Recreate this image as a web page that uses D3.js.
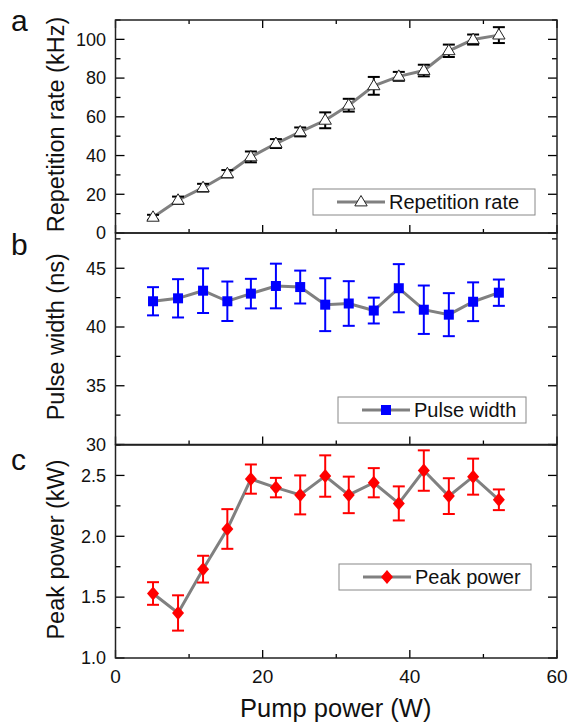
<!DOCTYPE html>
<html><head><meta charset="utf-8">
<script src="https://cdn.jsdelivr.net/npm/d3@7"></script>
<style>body{margin:0;background:#fff;} svg{display:block;font-family:"Liberation Sans",Arial,sans-serif;}</style>
</head><body><svg id="c" width="570" height="727"></svg>
<script>
const pumpPower = [5.1, 8.5, 11.9, 15.2, 18.4, 21.8, 25.1, 28.5, 31.7, 35.1, 38.5, 41.9, 45.3, 48.6, 52.1];
const repRate = [8.1, 16.9, 23.4, 30.6, 39.3, 46.2, 52.2, 58.2, 66.0, 76.0, 80.9, 83.9, 94.1, 99.9, 102.2];
const repRateErr = [1.3, 1.9, 2.0, 1.9, 2.8, 2.3, 2.3, 4.1, 3.3, 4.6, 2.3, 3.0, 3.2, 2.6, 4.1];
const pulseWidth = [42.19, 42.44, 43.09, 42.19, 42.84, 43.49, 43.4, 41.9, 42.0, 41.4, 43.3, 41.47, 41.05, 42.15, 42.92];
const pulseWidthErr = [1.2, 1.63, 1.9, 1.68, 1.26, 1.9, 1.4, 2.25, 1.9, 1.1, 2.05, 2.06, 1.83, 1.65, 1.12];
const peakPower = [1.53, 1.37, 1.73, 2.06, 2.47, 2.40, 2.34, 2.495, 2.34, 2.44, 2.27, 2.54, 2.33, 2.49, 2.30];
const peakPowerErr = [0.093, 0.145, 0.11, 0.163, 0.12, 0.08, 0.16, 0.17, 0.15, 0.12, 0.14, 0.166, 0.147, 0.148, 0.085];
const xTicks = [0, 20, 40, 60];
const xMinor = [10, 30, 50];
const yTicksA = [0, 20, 40, 60, 80, 100];
const yTicksB = [30, 35, 40, 45];
const yTicksC = [1.0, 1.5, 2.0, 2.5];

const svg = d3.select("#c");
const L = 115.5, R = 557;
const x = d3.scaleLinear().domain([0, 60]).range([L, R]);

const panels = [
  {letter:"a", top:20, bottom:233, domain:[0,110], ticks:yTicksA, minorStep:10, fmt:d3.format("d"),
   title:"Repetition rate (kHz)", vals:repRate, errs:repRateErr, color:"#000", marker:"tri",
   legend:{x0:313, y0:189, x1:535, y1:215, text:"Repetition rate"}, topTicks:true},
  {letter:"b", top:233, bottom:444.5, domain:[30,48], ticks:yTicksB, minorStep:2.5, fmt:d3.format("d"),
   title:"Pulse width (ns)", vals:pulseWidth, errs:pulseWidthErr, color:"#0000ff", marker:"sq",
   legend:{x0:338, y0:397, x1:526, y1:423, text:"Pulse width"}},
  {letter:"c", top:445, bottom:658, domain:[1,2.75], ticks:yTicksC, minorStep:0.25, fmt:d3.format(".1f"),
   title:"Peak power (kW)", vals:peakPower, errs:peakPowerErr, color:"#ff0000", marker:"dia",
   legend:{x0:339, y0:564, x1:531, y1:590, text:"Peak power"}}
];

function drawMarker(g, type, cx, cy, color) {
  if (type === "tri") {
    const s = 6.5;
    g.append("path").attr("d", `M${cx},${cy-s} L${cx+s*0.95},${cy+s*0.6} L${cx-s*0.95},${cy+s*0.6} Z`)
      .attr("fill", "#fff").attr("stroke", "#222").attr("stroke-width", 1);
  } else if (type === "sq") {
    g.append("rect").attr("x", cx-5).attr("y", cy-5).attr("width", 10).attr("height", 10).attr("fill", color);
  } else {
    g.append("path").attr("d", `M${cx},${cy-7} L${cx+6},${cy} L${cx},${cy+7} L${cx-6},${cy} Z`).attr("fill", color);
  }
}

panels.forEach((p, pi) => {
  const y = d3.scaleLinear().domain(p.domain).range([p.bottom, p.top]);
  const g = svg.append("g");
  const minors = d3.range(p.domain[0], p.domain[1] + 1e-9, p.minorStep).filter(v => !p.ticks.some(t => Math.abs(t - v) < 1e-6));
  minors.forEach(v => {
    g.append("line").attr("x1", L).attr("x2", L+5).attr("y1", y(v)).attr("y2", y(v)).attr("stroke", "#000").attr("stroke-width", 1.3);
    g.append("line").attr("x1", R).attr("x2", R-5).attr("y1", y(v)).attr("y2", y(v)).attr("stroke", "#000").attr("stroke-width", 1.3);
  });
  p.ticks.forEach(v => {
    g.append("line").attr("x1", L).attr("x2", L+9).attr("y1", y(v)).attr("y2", y(v)).attr("stroke", "#000").attr("stroke-width", 1.3);
    g.append("line").attr("x1", R).attr("x2", R-9).attr("y1", y(v)).attr("y2", y(v)).attr("stroke", "#000").attr("stroke-width", 1.3);
    g.append("text").attr("x", 106).attr("y", y(v)).attr("dy", "0.35em").attr("text-anchor", "end")
      .attr("font-size", 18).attr("fill", "#111").text(p.fmt(v));
  });
  xTicks.forEach(v => {
    g.append("line").attr("x1", x(v)).attr("x2", x(v)).attr("y1", p.bottom).attr("y2", p.bottom-8).attr("stroke", "#000").attr("stroke-width", 1.3);
    if (p.topTicks) g.append("line").attr("x1", x(v)).attr("x2", x(v)).attr("y1", p.top).attr("y2", p.top+8).attr("stroke", "#000").attr("stroke-width", 1.3);
  });
  xMinor.forEach(v => {
    g.append("line").attr("x1", x(v)).attr("x2", x(v)).attr("y1", p.bottom).attr("y2", p.bottom-4).attr("stroke", "#000").attr("stroke-width", 1.3);
    if (p.topTicks) g.append("line").attr("x1", x(v)).attr("x2", x(v)).attr("y1", p.top).attr("y2", p.top+4).attr("stroke", "#000").attr("stroke-width", 1.3);
  });
  g.append("rect").attr("x", L).attr("y", p.top).attr("width", R-L).attr("height", p.bottom-p.top)
    .attr("fill", "none").attr("stroke", "#222").attr("stroke-width", 1.5);
  g.append("text").attr("transform", `translate(64,${(p.top+p.bottom)/2 - 2}) rotate(-90)`)
    .attr("text-anchor", "middle").attr("font-size", 23.5).attr("fill", "#111").text(p.title);
  g.append("text").attr("x", 11).attr("y", [31, 255, 470][pi]).attr("font-size", 30).attr("fill", "#111").text(p.letter);

  const line = d3.line().x((d, i) => x(pumpPower[i])).y(d => y(d));
  g.append("path").datum(p.vals).attr("d", line).attr("fill", "none").attr("stroke", "#808080").attr("stroke-width", 3);
  p.vals.forEach((v, i) => {
    const cx = x(pumpPower[i]), e = p.errs[i];
    const y1 = y(v + e), y2 = y(v - e);
    g.append("line").attr("x1", cx).attr("x2", cx).attr("y1", y1).attr("y2", y2).attr("stroke", p.color).attr("stroke-width", 2);
    [y1, y2].forEach(yy => g.append("line").attr("x1", cx-6).attr("x2", cx+6).attr("y1", yy).attr("y2", yy).attr("stroke", p.color).attr("stroke-width", 2));
  });
  p.vals.forEach((v, i) => drawMarker(g, p.marker, x(pumpPower[i]), y(v), p.color));

  const lg = p.legend;
  g.append("rect").attr("x", lg.x0).attr("y", lg.y0).attr("width", lg.x1-lg.x0).attr("height", lg.y1-lg.y0)
    .attr("fill", "#fff").attr("stroke", "#888").attr("stroke-width", 1);
  const ly = (lg.y0 + lg.y1) / 2;
  g.append("line").attr("x1", lg.x0+24).attr("x2", lg.x0+72).attr("y1", ly).attr("y2", ly).attr("stroke", "#808080").attr("stroke-width", 3);
  drawMarker(g, p.marker, lg.x0+48, ly, p.color);
  g.append("text").attr("x", lg.x0+76).attr("y", ly).attr("dy", "0.36em").attr("font-size", 20).attr("fill", "#111").text(lg.text);
});

xTicks.forEach(v => {
  svg.append("text").attr("x", x(v)).attr("y", 683).attr("text-anchor", "middle").attr("font-size", 19).attr("fill", "#111").text(v);
});
svg.append("text").attr("x", (L+R)/2 - 0.5).attr("y", 717).attr("text-anchor", "middle").attr("font-size", 25.5).attr("fill", "#111").text("Pump power (W)");
</script></body></html>
